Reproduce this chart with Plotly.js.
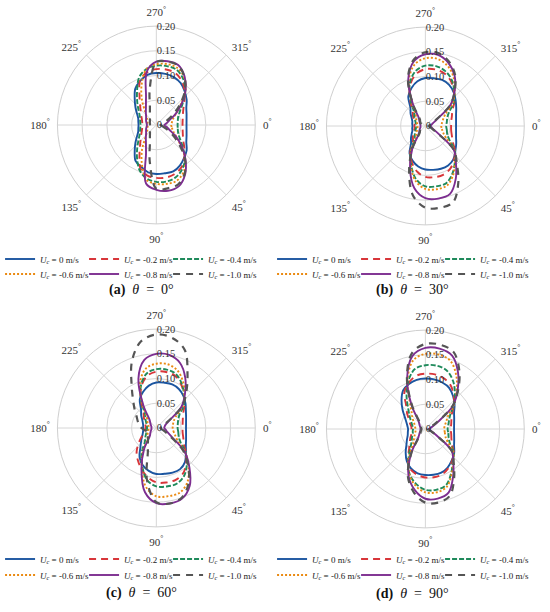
<!DOCTYPE html>
<html>
<head>
<meta charset="utf-8">
<script src="https://cdn.plot.ly/plotly-3.0.1.min.js"></script>
<style>html,body{margin:0;padding:0;background:#fff;}#chart{width:550px;height:612px;}</style>
</head>
<body>
<div id="chart"></div>
<script>
// Angles (deg, clockwise from 0 at right)
const thetaDeg = [0,10,20,30,40,50,60,70,80,90,100,110,120,130,140,150,160,170,180,190,200,210,220,230,240,250,260,270,280,290,300,310,320,330,340,350];

const seriesNames = ['0', '-0.2', '-0.4', '-0.6', '-0.8', '-1.0'];
const captions = ['(a)', '(b)', '(c)', '(d)'];
const captionAngles = ['0°', '30°', '60°', '90°'];
const radialTickVals = [0, 0.05, 0.10, 0.15, 0.20];
const radialTickText = ['0', '0.05', '0.10', '0.15', '0.20'];
const angleTickVals = [0, 45, 90, 135, 180, 225, 270, 315];

// Panel (a) theta = 0°
const blueA   = [0.061,0.062,0.065,0.070,0.080,0.087,0.095,0.100,0.099,0.099,0.097,0.090,0.084,0.068,0.055,0.045,0.039,0.037,0.036,0.037,0.039,0.045,0.055,0.068,0.085,0.095,0.103,0.105,0.105,0.103,0.098,0.089,0.080,0.070,0.065,0.062];
const redA    = [0.053,0.054,0.057,0.063,0.074,0.088,0.100,0.106,0.108,0.107,0.104,0.094,0.068,0.051,0.041,0.035,0.031,0.029,0.029,0.029,0.031,0.035,0.041,0.051,0.068,0.096,0.108,0.113,0.114,0.112,0.103,0.089,0.074,0.063,0.057,0.054];
const greenA  = [0.043,0.044,0.047,0.055,0.070,0.090,0.104,0.113,0.116,0.115,0.110,0.098,0.078,0.060,0.047,0.039,0.035,0.033,0.032,0.033,0.035,0.039,0.047,0.060,0.078,0.102,0.115,0.120,0.121,0.119,0.108,0.091,0.070,0.055,0.047,0.044];
const orangeA = [0.030,0.032,0.036,0.046,0.064,0.091,0.110,0.120,0.121,0.119,0.113,0.085,0.058,0.035,0.026,0.021,0.019,0.018,0.017,0.018,0.019,0.021,0.026,0.035,0.058,0.087,0.115,0.123,0.125,0.123,0.112,0.092,0.064,0.046,0.036,0.032];
const purpleA = [0.016,0.021,0.028,0.045,0.067,0.092,0.116,0.132,0.135,0.131,0.120,0.061,0.042,0.033,0.027,0.024,0.022,0.020,0.019,0.020,0.022,0.024,0.027,0.033,0.042,0.061,0.110,0.128,0.131,0.129,0.114,0.092,0.067,0.045,0.028,0.021];
const grayA   = [0.008,0.012,0.020,0.036,0.060,0.090,0.114,0.128,0.130,0.129,0.076,0.038,0.026,0.020,0.017,0.015,0.014,0.013,0.013,0.013,0.014,0.015,0.017,0.020,0.026,0.038,0.076,0.127,0.130,0.128,0.113,0.090,0.060,0.036,0.020,0.012];

// Panel (b) theta = 30°
const blueB   = [0.062,0.063,0.066,0.072,0.079,0.088,0.092,0.092,0.090,0.088,0.083,0.075,0.064,0.045,0.038,0.032,0.028,0.027,0.026,0.027,0.028,0.032,0.039,0.047,0.069,0.082,0.092,0.097,0.098,0.099,0.096,0.089,0.080,0.072,0.066,0.063];
const redB    = [0.052,0.053,0.057,0.064,0.078,0.090,0.100,0.105,0.105,0.103,0.094,0.079,0.061,0.039,0.033,0.027,0.024,0.022,0.022,0.022,0.024,0.027,0.033,0.040,0.062,0.089,0.107,0.115,0.116,0.113,0.104,0.090,0.077,0.063,0.057,0.053];
const greenB  = [0.042,0.044,0.047,0.056,0.078,0.093,0.110,0.123,0.124,0.122,0.109,0.084,0.059,0.034,0.028,0.024,0.021,0.019,0.019,0.019,0.021,0.024,0.029,0.035,0.059,0.092,0.113,0.122,0.123,0.118,0.107,0.091,0.075,0.055,0.047,0.044];
const orangeB = [0.032,0.034,0.038,0.048,0.077,0.093,0.113,0.128,0.130,0.127,0.113,0.086,0.057,0.030,0.024,0.020,0.018,0.016,0.016,0.016,0.018,0.020,0.025,0.030,0.053,0.098,0.126,0.137,0.138,0.130,0.114,0.092,0.072,0.046,0.038,0.034];
const purpleB = [0.009,0.012,0.016,0.029,0.075,0.096,0.123,0.146,0.149,0.146,0.128,0.091,0.053,0.020,0.016,0.013,0.011,0.010,0.010,0.010,0.011,0.013,0.016,0.020,0.050,0.101,0.133,0.145,0.146,0.136,0.118,0.092,0.066,0.027,0.016,0.012];
const grayB   = [0.006,0.009,0.013,0.026,0.075,0.099,0.133,0.164,0.168,0.165,0.143,0.096,0.052,0.018,0.014,0.011,0.009,0.008,0.008,0.008,0.009,0.011,0.014,0.017,0.049,0.103,0.136,0.149,0.150,0.139,0.120,0.092,0.065,0.024,0.013,0.009];

// Panel (c) theta = 60°
const blueC   = [0.060,0.061,0.064,0.069,0.078,0.090,0.096,0.096,0.094,0.093,0.088,0.080,0.068,0.050,0.040,0.033,0.029,0.027,0.027,0.027,0.029,0.033,0.040,0.048,0.067,0.078,0.087,0.092,0.093,0.094,0.091,0.085,0.077,0.069,0.064,0.061];
const redC    = [0.053,0.054,0.058,0.064,0.078,0.094,0.107,0.112,0.112,0.110,0.101,0.088,0.075,0.062,0.046,0.034,0.026,0.023,0.022,0.022,0.024,0.027,0.033,0.040,0.061,0.089,0.107,0.114,0.115,0.112,0.101,0.087,0.075,0.063,0.057,0.054];
const greenC  = [0.043,0.045,0.048,0.056,0.077,0.096,0.112,0.120,0.120,0.118,0.107,0.083,0.060,0.036,0.029,0.024,0.021,0.019,0.019,0.019,0.021,0.024,0.029,0.035,0.060,0.091,0.112,0.119,0.120,0.116,0.103,0.087,0.073,0.054,0.047,0.044];
const orangeC = [0.033,0.035,0.040,0.049,0.076,0.101,0.126,0.139,0.140,0.138,0.121,0.086,0.054,0.027,0.024,0.020,0.017,0.016,0.016,0.016,0.017,0.020,0.024,0.030,0.057,0.097,0.122,0.130,0.131,0.124,0.108,0.088,0.070,0.045,0.037,0.034];
const purpleC = [0.016,0.019,0.024,0.036,0.075,0.104,0.135,0.152,0.155,0.152,0.132,0.088,0.050,0.020,0.016,0.013,0.011,0.010,0.010,0.010,0.011,0.013,0.016,0.021,0.052,0.106,0.140,0.150,0.150,0.140,0.117,0.090,0.066,0.030,0.020,0.017];
const grayC   = [0.008,0.010,0.016,0.030,0.070,0.100,0.130,0.150,0.155,0.150,0.108,0.050,0.034,0.026,0.021,0.019,0.020,0.024,0.030,0.035,0.040,0.046,0.057,0.073,0.100,0.144,0.178,0.189,0.185,0.168,0.126,0.094,0.068,0.028,0.015,0.010];

// Panel (d) theta = 90°
const blueD   = [0.058,0.059,0.062,0.067,0.076,0.083,0.090,0.094,0.094,0.093,0.091,0.085,0.075,0.062,0.050,0.043,0.038,0.036,0.035,0.037,0.041,0.048,0.060,0.075,0.090,0.097,0.101,0.102,0.102,0.100,0.096,0.087,0.077,0.067,0.062,0.059];
const redD    = [0.051,0.053,0.056,0.062,0.075,0.084,0.092,0.098,0.099,0.098,0.094,0.087,0.070,0.051,0.041,0.035,0.030,0.029,0.028,0.029,0.033,0.038,0.048,0.060,0.085,0.099,0.109,0.112,0.112,0.109,0.102,0.089,0.076,0.062,0.056,0.053];
const greenD  = [0.045,0.047,0.050,0.057,0.075,0.086,0.104,0.121,0.125,0.123,0.112,0.095,0.068,0.046,0.036,0.031,0.027,0.026,0.025,0.026,0.029,0.034,0.042,0.054,0.076,0.102,0.123,0.129,0.130,0.126,0.112,0.093,0.075,0.058,0.051,0.047];
const orangeD = [0.038,0.040,0.043,0.052,0.074,0.087,0.106,0.125,0.130,0.128,0.116,0.096,0.065,0.038,0.030,0.025,0.022,0.020,0.020,0.021,0.023,0.027,0.034,0.043,0.063,0.106,0.141,0.152,0.153,0.147,0.125,0.098,0.075,0.053,0.045,0.040];
const purpleD = [0.006,0.009,0.013,0.027,0.070,0.088,0.112,0.137,0.143,0.141,0.125,0.100,0.058,0.022,0.016,0.013,0.011,0.010,0.010,0.010,0.011,0.013,0.016,0.022,0.056,0.108,0.150,0.164,0.165,0.158,0.132,0.101,0.072,0.030,0.016,0.010];
const grayD   = [0.004,0.007,0.011,0.025,0.070,0.089,0.116,0.144,0.151,0.149,0.131,0.103,0.057,0.019,0.013,0.011,0.009,0.008,0.008,0.008,0.009,0.010,0.013,0.018,0.052,0.109,0.156,0.172,0.173,0.166,0.137,0.103,0.071,0.025,0.010,0.004];

const panelData = [
  [blueA, redA, greenA, orangeA, purpleA, grayA],
  [blueB, redB, greenB, orangeB, purpleB, grayB],
  [blueC, redC, greenC, orangeC, purpleC, grayC],
  [blueD, redD, greenD, orangeD, purpleD, grayD]
];

const seriesStyle = [
  {color:'#1b55a0', dash:'solid', width:1.9},
  {color:'#d8363a', dash:'7px,5px', width:1.9},
  {color:'#1f8a5b', dash:'5px,2px', width:1.9},
  {color:'#ea8a12', dash:'2px,2px', width:1.9},
  {color:'#7d2e90', dash:'solid', width:1.9},
  {color:'#555555', dash:'7px,6px', width:2.2}
];

const FONT = 'Liberation Serif, Times New Roman, serif';
const subplots = ['polar', 'polar2', 'polar3', 'polar4'];
// pixel centres of the four polar plots (radius 100 px)
const W = 550, H = 612;
const centers = [[152,125],[424,126],[152,428],[424,429]];
const legendLeft = [-6, 269, -6, 269];
const legendRowY = [[259,274],[259,274],[559,575],[559,575]];
const captionPos = [[137,290],[411,290],[137,593],[411,594]];

function legendId(n) { return n === 1 ? 'legend' : 'legend' + n; }

const traces = [];
panelData.forEach((set, p) => {
  set.forEach((r, s) => {
    traces.push({
      type: 'scatterpolar',
      mode: 'lines',
      subplot: subplots[p],
      theta: thetaDeg.concat([thetaDeg[0] + 360]),
      r: r.concat([r[0]]),
      name: '<i>U<sub>c</sub></i> = ' + seriesNames[s] + ' m/s',
      legend: legendId(p*2 + (s < 3 ? 1 : 2)),
      line: {color: seriesStyle[s].color, dash: seriesStyle[s].dash, width: seriesStyle[s].width, shape: 'spline', smoothing: 1},
      hoverinfo: 'skip'
    });
  });
});

const layout = {
  width: W, height: H,
  margin: {l:0, r:0, t:0, b:0},
  paper_bgcolor: '#fff',
  font: {family: FONT, color: '#222'},
  annotations: [],
  showlegend: true
};

subplots.forEach((name, p) => {
  const [cx, cy] = centers[p];
  layout[name] = {
    domain: {x: [(cx-100)/W, (cx+100)/W], y: [(H-cy-100)/H, (H-cy+100)/H]},
    bgcolor: '#fff',
    angularaxis: {
      direction: 'clockwise', rotation: 0,
      tickmode: 'array', tickvals: angleTickVals,
      ticktext: angleTickVals.map(v => v + '<sup>°</sup>'),
      ticks: 'outside', ticklen: 5, tickcolor: 'rgba(0,0,0,0)',
      tickfont: {family: FONT, size: 11, color: '#333'},
      showgrid: true, gridcolor: '#d6d6d6', gridwidth: 1,
      showline: true, linecolor: '#cfcfcf', linewidth: 1
    },
    radialaxis: {
      range: [0, 0.2], angle: 90, side: 'clockwise', tickangle: 90,
      tickmode: 'array', tickvals: radialTickVals, ticktext: radialTickText,
      tickfont: {family: FONT, size: 10.5, color: '#333'},
      ticks: '', showline: false,
      showgrid: true, gridcolor: '#d6d6d6', gridwidth: 1
    }
  };
  for (let row = 0; row < 2; row++) {
    layout[legendId(p*2 + row + 1)] = {
      orientation: 'h',
      x: legendLeft[p]/W, xanchor: 'left',
      y: 1 - legendRowY[p][row]/H, yanchor: 'middle',
      entrywidth: 39, entrywidthmode: 'pixels',
      font: {family: FONT, size: 9, color: '#222'},
      bgcolor: 'rgba(0,0,0,0)', borderwidth: 0,
      tracegroupgap: 0, itemclick: false, itemdoubleclick: false
    };
  }
  layout.annotations.push({
    xref: 'paper', yref: 'paper',
    x: captionPos[p][0]/W, y: 1 - captionPos[p][1]/H,
    xanchor: 'center', yanchor: 'middle', showarrow: false,
    text: '<b>' + captions[p] + '</b>\u2002<i>θ</i>\u2002=\u2002' + captionAngles[p],
    font: {family: FONT, size: 14, color: '#111'}
  });
});

Plotly.newPlot('chart', traces, layout, {displayModeBar: false, staticPlot: true}).then(gd => {
  // let the last legend entry of each row show its full label (fixed column widths clip it otherwise)
  gd.querySelectorAll('.scrollbox').forEach(g => g.removeAttribute('clip-path'));
});
</script>
</body>
</html>
